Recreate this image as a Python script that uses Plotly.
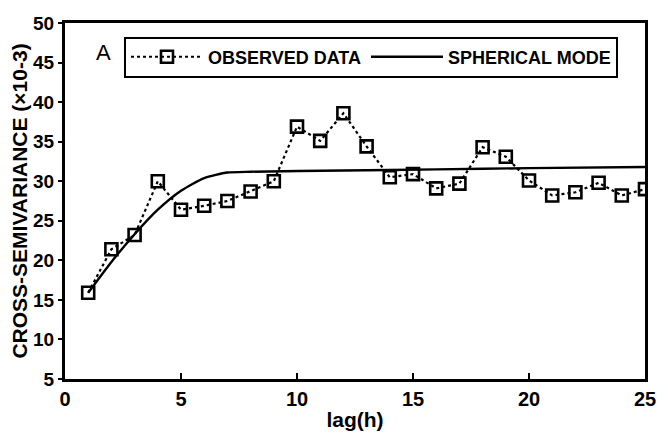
import plotly.graph_objects as go

lag = list(range(1, 26))
observed = [15.9, 21.4, 23.2, 30.0, 26.4, 26.9, 27.5, 28.7, 30.0, 36.9,
            35.1, 38.6, 34.4, 30.5, 30.9, 29.1, 29.7, 34.3, 33.1, 30.1,
            28.2, 28.6, 29.8, 28.2, 29.0]

model_lag = [1, 2, 3, 4, 5, 6, 7, 8, 12, 16, 20, 25]
model_val = [15.9, 19.8, 23.3, 26.4, 28.8, 30.4, 31.1, 31.2, 31.35, 31.5, 31.65, 31.8]

x_ticks = [0, 5, 10, 15, 20, 25]
y_ticks = [5, 10, 15, 20, 25, 30, 35, 40, 45, 50]

FONT = "Liberation Sans, Arial, sans-serif"

fig = go.Figure()
fig.add_trace(go.Scatter(
    x=lag, y=observed, mode="lines+markers", name="OBSERVED DATA",
    line=dict(color="black", width=2.2, dash="dot"),
    marker=dict(symbol="square-open", size=12, color="black",
                line=dict(color="black", width=2.6)),
))
fig.add_trace(go.Scatter(
    x=model_lag, y=model_val, mode="lines", name="SPHERICAL MODE",
    line=dict(color="black", width=2.4, shape="spline", smoothing=0.6),
))

fig.update_layout(
    width=668, height=441,
    margin=dict(l=65, r=13, t=23, b=52),
    paper_bgcolor="white", plot_bgcolor="white",
    font=dict(family=FONT, color="black", size=20, weight="bold"),
    showlegend=True,
    legend=dict(
        orientation="h", x=0.1017, y=0.962, xanchor="left", yanchor="top",
        bordercolor="black", borderwidth=2, bgcolor="white",
        font=dict(family=FONT, size=18, color="black", weight="bold"),
        itemwidth=72, tracegroupgap=0,
    ),
    xaxis=dict(
        range=[0, 25], tickvals=x_ticks, ticktext=[str(v) for v in x_ticks],
        showgrid=False, zeroline=False, showline=True, linecolor="black",
        linewidth=3, mirror=True, ticks="inside", ticklen=6, tickwidth=2,
        tickcolor="black", tickfont=dict(family=FONT, size=20, weight="bold"),
        ticklabeloverflow="allow",
        title=dict(text="lag(h)", font=dict(family=FONT, size=21, weight="bold"), standoff=4),
    ),
    yaxis=dict(
        range=[5, 50], tickvals=y_ticks, ticktext=[str(v) for v in y_ticks],
        showgrid=False, zeroline=False, showline=True, linecolor="black",
        linewidth=3, mirror=True, ticks="outside", ticklen=4, tickwidth=2,
        tickcolor="black", tickfont=dict(family=FONT, size=19, weight="bold"),
        ticklabeloverflow="allow",
        title=dict(text="CROSS-SEMIVARIANCE (×10-3)", font=dict(family=FONT, size=21), standoff=0),
    ),
)

fig.add_annotation(
    x=0.066, y=0.918, xref="paper", yref="paper", text="A", showarrow=False,
    font=dict(family=FONT, size=22, color="black", weight="normal"),
    xanchor="center", yanchor="middle",
)

fig.write_html("out.html")
